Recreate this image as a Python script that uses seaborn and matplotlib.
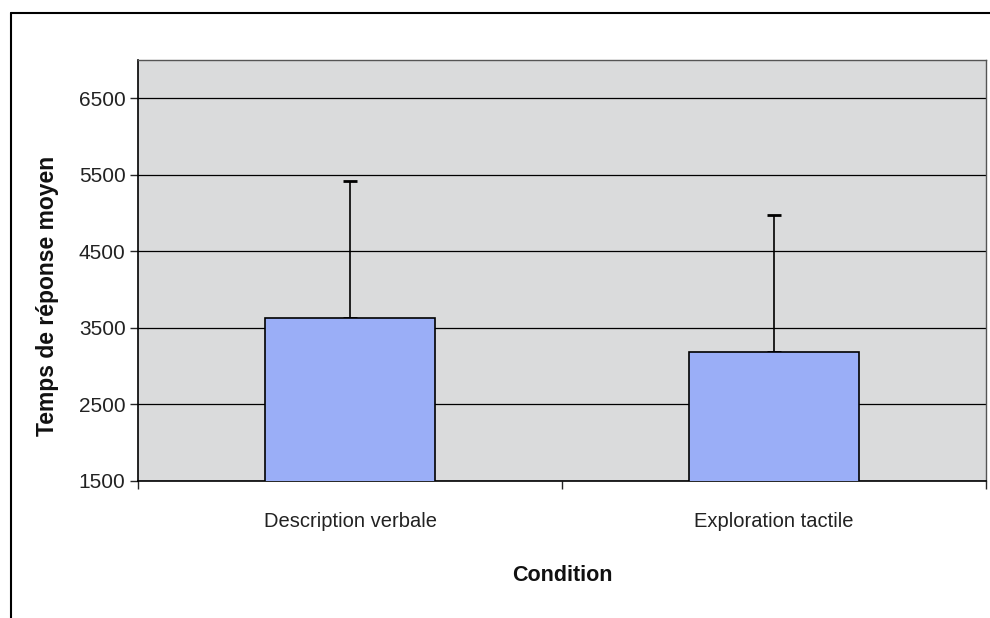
import matplotlib
matplotlib.use('Agg')
import matplotlib.pyplot as plt
import seaborn as sns
import pandas as pd
from matplotlib.lines import Line2D

conditions = ['Description verbale', 'Exploration tactile']
mean_rt = [3630, 3180]
sd_rt = [1790, 1795]
y_ticks = [1500, 2500, 3500, 4500, 5500, 6500]

sns.set_style('white')
plt.rcParams['font.family'] = ['Liberation Sans', 'DejaVu Sans']

df = pd.DataFrame({'Condition': conditions, 'rt': mean_rt})

fig = plt.figure(figsize=(9.9, 6.18), dpi=100)
ax = fig.add_axes([0.1394, 0.2217, 0.8566, 0.6813])
ax.set_facecolor('#dadbdc')
ax.set_axisbelow(True)

sns.barplot(data=df, x='Condition', y='rt', color='#9aaef7', width=0.4,
            edgecolor='black', linewidth=1.2, saturation=1, ax=ax, errorbar=None)
for b in ax.patches:
    b.set_zorder(3)
ax.errorbar(range(len(conditions)), mean_rt, yerr=[[0, 0], sd_rt], fmt='none',
            ecolor='black', elinewidth=1.2, capsize=5, capthick=2, zorder=2)

ax.set_ylim(1500, 7000)
ax.set_xlim(-0.5, 1.5)
ax.set_yticks(y_ticks)
ax.yaxis.grid(True, color='black', linewidth=0.9)
ax.tick_params(axis='y', which='major', direction='out', length=6, width=1,
               labelsize=15, left=True, pad=3, labelcolor='#222222')
ax.tick_params(axis='x', which='major', length=0, labelsize=14.5, pad=22,
               labelcolor='#222222')
ax.set_xticks([-0.5, 0.5, 1.5], minor=True)
ax.tick_params(axis='x', which='minor', direction='out', length=6, width=1, bottom=True)

for side in ['top', 'right']:
    ax.spines[side].set_color('#555555')
    ax.spines[side].set_linewidth(1)
for side in ['left', 'bottom']:
    ax.spines[side].set_color('black')
    ax.spines[side].set_linewidth(1.2)

ax.set_ylabel('Temps de réponse moyen', fontsize=16.5, fontweight='bold', color='#111111')
ax.yaxis.set_label_coords(-0.093, 0.44)
ax.set_xlabel('Condition', fontsize=15.5, fontweight='bold', color='#111111')
ax.xaxis.set_label_coords(0.5, -0.2)

# outer chart frame (top and left edges visible)
fig.add_artist(Line2D([11 / 990, 1.0], [1 - 13 / 618, 1 - 13 / 618],
                      transform=fig.transFigure, color='black', linewidth=1.5))
fig.add_artist(Line2D([11 / 990, 11 / 990], [0.0, 1 - 13 / 618],
                      transform=fig.transFigure, color='black', linewidth=1.5))

fig.savefig('out.png', dpi=100)
plt.close(fig)
